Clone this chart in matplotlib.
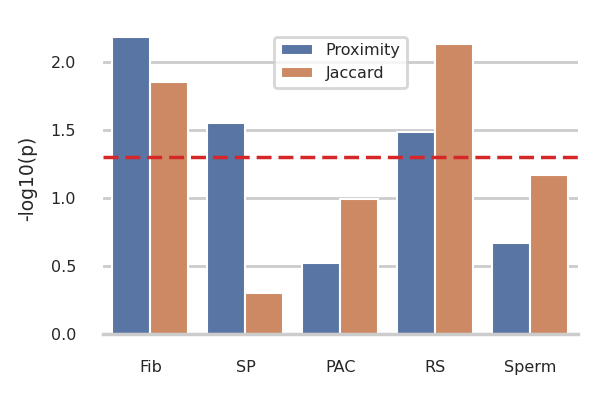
import matplotlib
matplotlib.use("Agg")
import matplotlib.pyplot as plt
import pandas as pd
import seaborn as sns

cell_types = ["Fib", "SP", "PAC", "RS", "Sperm"]
proximity = [2.18, 1.55, 0.52, 1.48, 0.67]
jaccard = [1.85, 0.30, 0.99, 2.13, 1.17]
threshold = 1.30  # -log10(0.05)

df = pd.DataFrame({
    "cell": cell_types * 2,
    "score": proximity + jaccard,
    "method": ["Proximity"] * len(cell_types) + ["Jaccard"] * len(cell_types),
})

sns.set_theme(style="whitegrid")
plt.rcParams["font.family"] = ["DejaVu Sans"]

fig = plt.figure(figsize=(5.97, 3.95), dpi=100)
ax = fig.add_axes([0.1725, 0.1544, 0.7956, 0.7518])
sns.barplot(data=df, x="cell", y="score", hue="method", ax=ax,
            linewidth=1.5, edgecolor="white")
ax.axhline(threshold, color="#d62728", linestyle="--", linewidth=2.5,
           dashes=(4.3, 2))

ax.set_ylim(0, 2.18)
ax.set_xlim(-0.5, 4.5)
ax.set_yticks([0.0, 0.5, 1.0, 1.5, 2.0])
ax.set_xlabel("")
ax.set_ylabel("-log10(p)", fontsize=13.5)
ax.yaxis.set_label_coords(-0.139, 0.525)
ax.grid(axis="x", visible=False)
ax.grid(axis="y", color="#cccccc", linewidth=2)
ax.tick_params(axis="x", labelsize=11.5, pad=12.5)
ax.tick_params(axis="y", labelsize=11.5, pad=13.5)
sns.despine(ax=ax, left=True)
ax.spines["bottom"].set_color("#cccccc")
ax.spines["bottom"].set_linewidth(2.5)

leg = ax.legend(loc="upper center", bbox_to_anchor=(0.5, 1.0),
                borderaxespad=0, fontsize=11.5, title=None)
leg.get_frame().set_linewidth(2)

fig.savefig("out.png", dpi=100)
